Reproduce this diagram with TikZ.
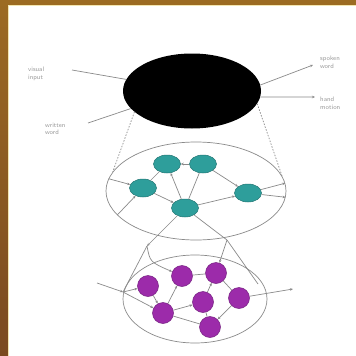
\documentclass[tikz,border=0pt]{standalone}
\usetikzlibrary{shapes.geometric,arrows.meta}
\definecolor{brownA}{HTML}{9C6B22}
\definecolor{brownB}{HTML}{7A4A1F}
\definecolor{paleY}{HTML}{F3E6B0}
\definecolor{tealN}{HTML}{2E9E9B}
\definecolor{purpN}{HTML}{9C2BAA}
\definecolor{lineG}{HTML}{8A8A8A}
\definecolor{textG}{HTML}{9A9A9A}
\begin{document}
\begin{tikzpicture}[x=1pt,y=-1pt,
  link/.style={draw=lineG,line width=0.7pt},
  arr/.style={link,-{Stealth[length=3pt,width=2.5pt]}},
  dashlink/.style={link,dashed,dash pattern=on 1.5pt off 1.5pt},
  tnode/.style={ellipse,fill=tealN,draw=tealN!75!black,line width=0.5pt,minimum width=27pt,minimum height=18pt,inner sep=0pt},
  pnode/.style={circle,fill=purpN,draw=purpN!75!black,line width=0.5pt,minimum size=21pt,inner sep=0pt},
  lbl/.style={font=\sffamily\fontsize{6.5}{7.5}\selectfont,text=textG,align=left,anchor=north west,inner sep=0pt}
]
\useasboundingbox (0,0) rectangle (356,356);
\fill[white] (0,0) rectangle (356,356);
\shade[top color=brownA,bottom color=brownB] (0,0) rectangle (8,356);
\fill[brownA] (0,0) rectangle (356,5);
\draw[paleY,line width=1pt] (8.5,356) -- (8.5,5.5) -- (356,5.5);

% big containers
\node[ellipse,fill=black,minimum width=138pt,minimum height=75pt,inner sep=0pt] (brain) at (192,91) {};
\node[ellipse,link,minimum width=180pt,minimum height=98pt,inner sep=0pt] (mid) at (196,191) {};
\node[ellipse,link,minimum width=144pt,minimum height=88pt,inner sep=0pt] (low) at (195,299) {};

% labels
\node[lbl] (vi) at (28,67) {visual\\input};
\node[lbl] (ww) at (45,123) {written\\word};
\node[lbl] (sw) at (320,56) {spoken\\word};
\node[lbl] (hm) at (320,97) {hand\\motion};

\coordinate (viS) at (72,70);
\coordinate (wwS) at (88,123);
\coordinate (swE) at (313,65);
\coordinate (hmE) at (315,97);
\draw[link] (viS) -- (brain.170);
\draw[link] (wwS) -- (brain.196);
\draw[arr] (brain.5) -- (swE);
\draw[arr] (brain.355) -- (hmE);

% dashed projections
\draw[dashlink] (brain.200) -- (mid.167);
\draw[dashlink] (brain.349) -- (mid.10);

% middle network
\node[tnode] (A) at (167,164) {};
\node[tnode] (B) at (203,164) {};
\node[tnode] (C) at (143,188) {};
\node[tnode] (D) at (248,193) {};
\node[tnode] (E) at (185,208) {};

\draw[arr] (mid.172) -- (C);
\draw[arr] (mid.197) -- (C);
\draw[link] (C) -- (A);
\draw[arr] (B) -- (A);
\draw[arr] (E) -- (A);
\draw[link] (B) -- (E);
\draw[arr] (B) -- (D);
\draw[arr] (E) -- (D);
\draw[arr] (C) -- (E);
\draw[arr] (D) -- (mid.5);
\draw[arr] (D) -- (mid.356);

% lower network
\node[pnode] (P1) at (148,286) {};
\node[pnode] (P2) at (182,276) {};
\node[pnode] (P3) at (216,273) {};
\node[pnode] (P4) at (163,313) {};
\node[pnode] (P5) at (203,302) {};
\node[pnode] (P6) at (239,298) {};
\node[pnode] (P7) at (210,327) {};

\coordinate (j1) at (147,246);
\coordinate (j2) at (123,292);
\coordinate (j4) at (227,240);
\coordinate (j3) at (258,284);
\coordinate (inL) at (97,283);
\coordinate (outR) at (293,289);

\draw[arr] (E) -- (j1);
\draw[link] (j1) -- (j2);
\draw[arr] (j1) .. controls (150,262) .. (P2);
\draw[link] (E) -- (j4) -- (j3);
\draw[arr] (j4) -- (P3);

\draw[arr] (inL) -- (j2);
\draw[arr] (j2) -- (P1);
\draw[arr] (j2) -- (P4);
\draw[arr] (P1) -- (P4);
\draw[arr] (P4) -- (P2);
\draw[link] (P2) -- (P3);
\draw[arr] (P4) -- (P5);
\draw[arr] (P5) -- (P3);
\draw[link] (P3) -- (P6);
\draw[link] (P5) -- (P7);
\draw[arr] (P6) -- (P7);
\draw[link] (P4) -- (P7);
\draw[arr] (P6) -- (outR);
\end{tikzpicture}
\end{document}
